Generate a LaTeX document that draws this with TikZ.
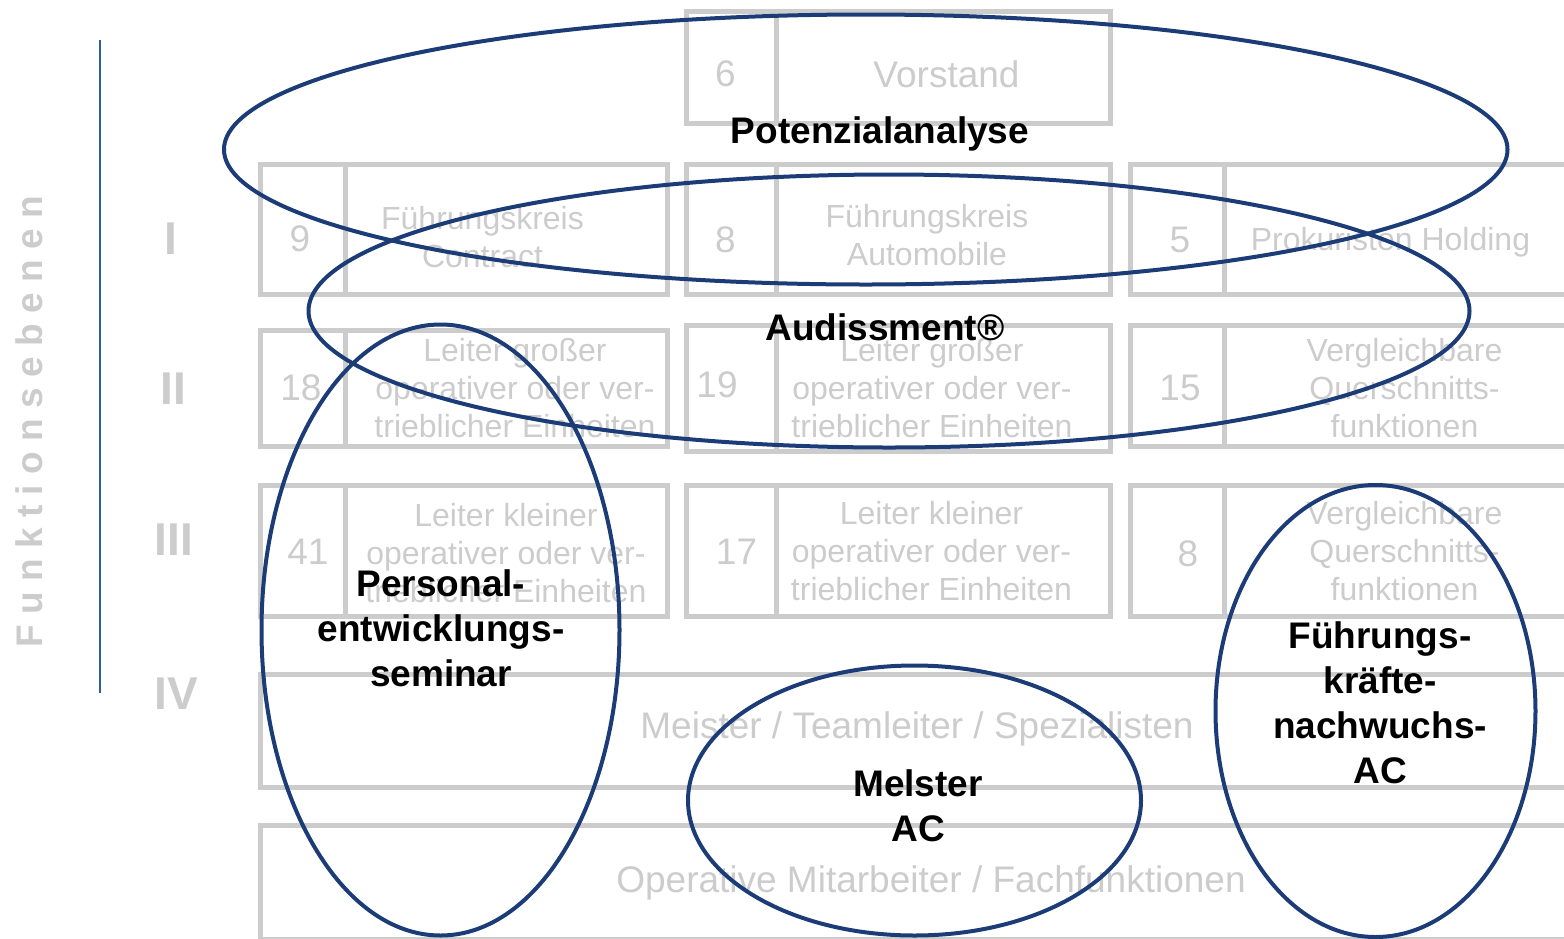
\documentclass[tikz,border=0pt]{standalone}
\usepackage{fontspec}
\setmainfont{Liberation Sans}
\newfontfamily\spacedfont[LetterSpace=28]{Liberation Sans}
\usepackage{tikz}
\usetikzlibrary{arrows,shapes}
\definecolor{boxgray}{RGB}{204,204,204}
\definecolor{ovalblue}{RGB}{28,60,120}
\definecolor{axisblue}{RGB}{45,90,170}
\newcommand{\boxfont}{\fontsize{37}{38}\selectfont}
\newcommand{\notefont}{\fontsize{32}{38}\selectfont}
\newcommand{\rankfont}{\fontsize{46}{46}\selectfont\bfseries}
\newcommand{\ovalfont}{\fontsize{37}{45}\selectfont\bfseries}
\tikzstyle{cell} = [rectangle, draw=boxgray, line width=5pt, inner sep=0pt]
\tikzstyle{cellnum} = [text=boxgray, font=\boxfont, inner sep=0pt]
\tikzstyle{celltext} = [text=boxgray, font=\boxfont, align=center, inner sep=0pt]
\tikzstyle{cellnote} = [celltext, font=\notefont]
\tikzstyle{rank} = [text=boxgray, font=\rankfont, inner sep=0pt]
\tikzstyle{oval} = [ellipse, draw=ovalblue, line width=4pt, inner sep=0pt]
\tikzstyle{ovaltext} = [text=black, font=\ovalfont, align=center, inner sep=0pt]

\begin{document}
\begin{tikzpicture}[x=1pt, y=-1pt]
  \useasboundingbox (0,0) rectangle (1564,938);
  \clip (0,0) rectangle (1564,938);
  % Axis
  \coordinate (axistop) at (100,40);
  \coordinate (axisbottom) at (100,693);
  \draw [axisblue, line width=2pt] (axistop) -- (axisbottom);
  \node [text=boxgray, rotate=90, inner sep=0pt,
  font={\spacedfont\bfseries\fontsize{37}{37}\selectfont}] (axislabel)
  at (29,422) {Funktionsebenen};
  \node [rank] (rank1) at (171,238.5) {I};
  \node [rank] (rank2) at (173,388.5) {II};
  \node [rank] (rank3) at (174,540) {III};
  \node [rank] (rank4) at (176.5,694) {IV};
  % Place cells
  \node [cell, minimum width=90, minimum height=112] (cellnum0) at (731,67) {};
  \node [cell, minimum width=334, minimum height=112] (celltext0) at (943,67) {};
  \node [cell, minimum width=85, minimum height=130] (cellnumA1) at (303,229.5) {};
  \node [cell, minimum width=322, minimum height=130] (celltextA1) at (506.5,229.5) {};
  \node [cell, minimum width=90, minimum height=130] (cellnumB1) at (731,229.5) {};
  \node [cell, minimum width=334, minimum height=130] (celltextB1) at (943,229.5) {};
  \node [cell, minimum width=94, minimum height=130] (cellnumC1) at (1177.5,229.5) {};
  \node [cell, minimum width=376, minimum height=130] (celltextC1) at (1412.5,229.5) {};
  \node [cell, minimum width=85, minimum height=116] (cellnumA2) at (303,388) {};
  \node [cell, minimum width=322, minimum height=116] (celltextA2) at (506.5,388) {};
  \node [cell, minimum width=90, minimum height=126] (cellnumB2) at (731,388) {};
  \node [cell, minimum width=334, minimum height=126] (celltextB2) at (943,388) {};
  \node [cell, minimum width=94, minimum height=121] (cellnumC2) at (1177.5,385.5) {};
  \node [cell, minimum width=376, minimum height=121] (celltextC2) at (1412.5,385.5) {};
  \node [cell, minimum width=85, minimum height=131.5] (cellnumA3) at (303,551) {};
  \node [cell, minimum width=322, minimum height=131.5] (celltextA3) at (506.5,551) {};
  \node [cell, minimum width=90, minimum height=131.5] (cellnumB3) at (731,551) {};
  \node [cell, minimum width=334, minimum height=131.5] (celltextB3) at (943,551) {};
  \node [cell, minimum width=94, minimum height=131.5] (cellnumC3) at (1177.5,551) {};
  \node [cell, minimum width=376, minimum height=131.5] (celltextC3) at (1412.5,551) {};
  \node [cell, minimum width=1340, minimum height=113] (cell4) at (930.5,731) {};
  \node [cell, minimum width=1340, minimum height=113.5] (cell5) at (930.5,882.25) {};
  % Cell texts
  \node [cellnum] (num0) at (725.5,73.5) {6};
  \node [cellnum] (numA1) at (300,238.5) {9};
  \node [cellnum] (numB1) at (725.5,239.5) {8};
  \node [cellnum] (numC1) at (1180,240) {5};
  \node [cellnum] (numA2) at (301,387.5) {18};
  \node [cellnum] (numB2) at (717,385) {19};
  \node [cellnum] (numC2) at (1180,387.5) {15};
  \node [cellnum] (numA3) at (308,551.5) {41};
  \node [cellnum] (numB3) at (736.5,551.5) {17};
  \node [cellnum] (numC3) at (1188,553.5) {8};
  \node [celltext] (text0) at (946.5,74) {Vorstand};
  \node [cellnote] (textA1) at (482.5,237) {Führungskreis\\Contract};
  \node [cellnote] (textB1) at (927,235) {Führungskreis\\Automobile};
  \node [cellnote] (textC1) at (1390.5,242) {Prokuristen Holding};
  \node [cellnote] (textA2) at (515,388.5) {Leiter großer\\operativer oder ver-\\trieblicher Einheiten};
  \node [cellnote] (textB2) at (932,388.5) {Leiter großer\\operativer oder ver-\\trieblicher Einheiten};
  \node [cellnote] (textC2) at (1404.5,388.5) {Vergleichbare\\Querschnitts-\\funktionen};
  \node [cellnote] (textA3) at (506,553.5) {Leiter kleiner\\operativer oder ver-\\trieblicher Einheiten};
  \node [cellnote] (textB3) at (931.5,551.5) {Leiter kleiner\\operativer oder ver-\\trieblicher Einheiten};
  \node [cellnote] (textC3) at (1404.5,551.5) {Vergleichbare\\Querschnitts-\\funktionen};
  \node [celltext] (text4) at (917,728.5) {Meister / Teamleiter / Spezialisten};
  \node [celltext] (text5) at (931,882.5) {Operative Mitarbeiter / Fachfunktionen};
  % Ovals
  \node [oval, minimum width=1283.5, minimum height=270] (potenzial) at (865.75,149.5) {};
  \node [oval, minimum width=1161, minimum height=273] (audissment) at (889,311) {};
  \node [oval, minimum width=358, minimum height=611] (seminar) at (440.5,630) {};
  \node [oval, minimum width=453, minimum height=270] (meisterac) at (914.5,800.5) {};
  \node [oval, minimum width=320, minimum height=452] (nachwuchs) at (1375.5,711) {};
  \node [ovaltext] (potenziallabel) at (880,133.5) {Potenzialanalyse};
  \node [ovaltext] (audissmentlabel) at (885,327) {Audissment®};
  \node [ovaltext] (seminarlabel) at (441,628.5) {Personal-\\entwicklungs-\\seminar};
  \node [ovaltext] (meisterlabel) at (918,806) {Melster\\AC};
  \node [ovaltext] (nachwuchslabel) at (1380,703) {Führungs-\\kräfte-\\nachwuchs-\\AC};
\end{tikzpicture}
\end{document}
